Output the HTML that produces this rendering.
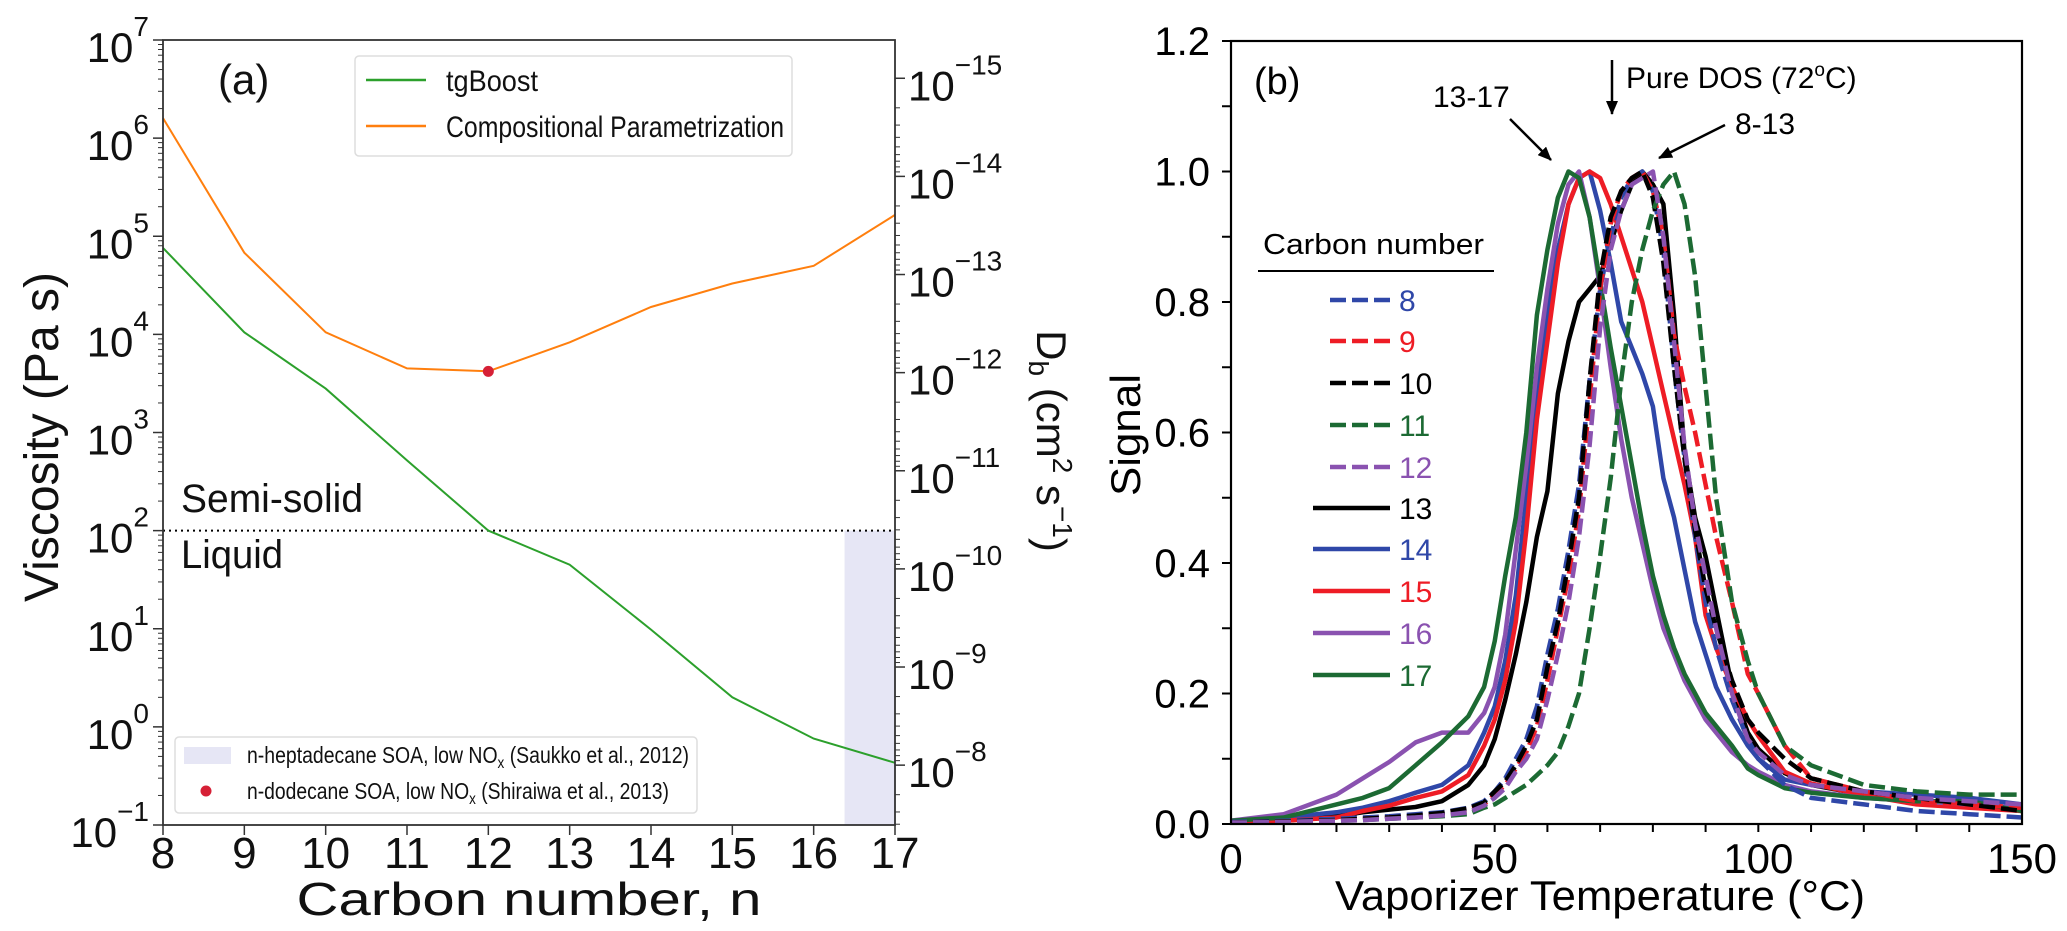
<!DOCTYPE html>
<html><head><meta charset="utf-8">
<style>
html,body{margin:0;padding:0;background:#fff;}
svg{display:block;font-family:"Liberation Sans",Arial,sans-serif;}
</style></head>
<body>
<svg id="fig" width="2067" height="931" viewBox="0 0 2067 931" xmlns="http://www.w3.org/2000/svg">
<defs></defs>
<g id="pa"></g>
<g id="pb"></g>
</svg>
<script>
// ---------- Panel (a) data ----------
const carbonN = [8, 9, 10, 11, 12, 13, 14, 15, 16, 17];
const tgBoost = [7.6e4, 1.05e4, 2.8e3, 5.2e2, 100, 45, 9.8, 2.0, 0.76, 0.43];
const compParam = [1.6e6, 6.8e4, 1.05e4, 4.5e3, 4.2e3, 8.3e3, 1.9e4, 3.3e4, 5.0e4, 1.65e5];
const dodecaneN = [12];
const dodecaneVisc = [4.2e3];
const leftExp = [7, 6, 5, 4, 3, 2, 1, 0, -1];
const rightExp = [-15, -14, -13, -12, -11, -10, -9, -8];
const shadeRange = [16.38, 17];
const semiSolidLimit = [100];

// ---------- Panel (b) data ----------
const temps = [0,10,20,25,30,35,40,45,48,50,52,54,56,58,60,62,64,66,68,70,72,74,76,78,80,82,84,86,88,90,92,95,98,100,105,110,120,130,140,150];
const s8  = [0.003,0.005,0.008,0.01,0.012,0.015,0.018,0.025,0.035,0.05,0.07,0.1,0.13,0.18,0.26,0.33,0.42,0.52,0.68,0.82,0.9,0.96,0.99,1.0,0.97,0.88,0.7,0.56,0.44,0.34,0.27,0.19,0.13,0.1,0.06,0.04,0.03,0.02,0.015,0.01];
const s9  = [0.002,0.004,0.006,0.008,0.01,0.012,0.016,0.022,0.03,0.045,0.06,0.085,0.11,0.15,0.22,0.3,0.38,0.48,0.65,0.82,0.92,0.97,0.99,1.0,0.97,0.9,0.75,0.67,0.6,0.52,0.44,0.34,0.23,0.2,0.12,0.07,0.05,0.035,0.03,0.025];
const s10 = [0.002,0.004,0.006,0.008,0.01,0.013,0.017,0.024,0.033,0.05,0.065,0.09,0.12,0.16,0.24,0.31,0.4,0.5,0.68,0.84,0.93,0.97,0.99,1.0,0.96,0.86,0.7,0.56,0.45,0.36,0.3,0.22,0.16,0.14,0.1,0.07,0.05,0.04,0.03,0.02];
const s11 = [0.002,0.003,0.005,0.006,0.008,0.01,0.012,0.015,0.025,0.03,0.04,0.05,0.06,0.075,0.09,0.11,0.15,0.2,0.3,0.41,0.53,0.68,0.8,0.88,0.94,0.98,1.0,0.95,0.84,0.67,0.5,0.34,0.25,0.2,0.12,0.09,0.06,0.05,0.045,0.045];
const s12 = [0.002,0.003,0.005,0.006,0.008,0.01,0.013,0.018,0.028,0.04,0.055,0.08,0.1,0.13,0.19,0.26,0.34,0.44,0.58,0.76,0.88,0.94,0.98,0.99,1.0,0.9,0.74,0.58,0.46,0.38,0.3,0.2,0.13,0.11,0.075,0.06,0.05,0.04,0.035,0.03];
const s13 = [0.002,0.005,0.012,0.018,0.022,0.026,0.035,0.06,0.09,0.13,0.19,0.26,0.34,0.44,0.51,0.66,0.74,0.8,0.82,0.84,0.89,0.94,0.98,1.0,0.98,0.95,0.78,0.57,0.47,0.41,0.33,0.21,0.14,0.115,0.078,0.06,0.045,0.035,0.03,0.02];
const s14 = [0.005,0.01,0.018,0.025,0.035,0.048,0.06,0.09,0.14,0.18,0.25,0.35,0.5,0.66,0.78,0.88,0.95,0.99,1.0,0.94,0.86,0.77,0.73,0.69,0.64,0.53,0.47,0.39,0.31,0.26,0.21,0.16,0.12,0.1,0.068,0.06,0.05,0.045,0.04,0.03];
const s15 = [0.003,0.005,0.01,0.02,0.028,0.04,0.05,0.075,0.12,0.16,0.22,0.31,0.45,0.62,0.74,0.86,0.95,0.99,1.0,0.99,0.95,0.9,0.85,0.8,0.73,0.66,0.59,0.52,0.44,0.32,0.27,0.21,0.16,0.135,0.08,0.062,0.044,0.03,0.025,0.02];
const s16 = [0.005,0.015,0.045,0.07,0.095,0.125,0.14,0.14,0.17,0.21,0.29,0.42,0.55,0.7,0.82,0.92,0.98,1.0,0.93,0.82,0.7,0.59,0.5,0.43,0.36,0.3,0.26,0.22,0.19,0.16,0.14,0.11,0.09,0.08,0.06,0.05,0.04,0.035,0.03,0.025];
const s17 = [0.005,0.01,0.03,0.04,0.055,0.09,0.125,0.165,0.21,0.28,0.38,0.47,0.6,0.78,0.88,0.96,1.0,0.99,0.93,0.83,0.73,0.64,0.55,0.46,0.38,0.32,0.27,0.23,0.2,0.17,0.15,0.12,0.085,0.075,0.055,0.048,0.04,0.035,0.035,0.02];
const seriesLabels = ["8","9","10","11","12","13","14","15","16","17"];
const yTicksB = [0.0, 0.2, 0.4, 0.6, 0.8, 1.0, 1.2];
const xTicksB = [0, 50, 100, 150];

const NS = "http://www.w3.org/2000/svg";
function mk(parent, tag, attrs, text) {
  const e = document.createElementNS(NS, tag);
  for (const k in attrs) e.setAttribute(k, attrs[k]);
  if (text !== undefined) e.textContent = text;
  parent.appendChild(e);
  return e;
}

// ---------- Panel (a) ----------
const pa = document.getElementById('pa');
const AX = {l:163, r:895, t:40, b:825};
const xA = n => AX.l + (n - 8) * (AX.r - AX.l) / 9;
const yA = v => AX.t + (7 - Math.log10(v)) * (AX.b - AX.t) / 8;
const yD = lg => AX.t + (15.39 + lg) * (AX.b - AX.t) / 8;

let e = mk(pa, 'rect', {x: xA(shadeRange[0]), y: yA(semiSolidLimit[0]), width: xA(shadeRange[1]) - xA(shadeRange[0]), height: AX.b - yA(semiSolidLimit[0]), fill: '#e6e6f5'});



e = mk(pa, 'line', {x1: AX.l, x2: AX.r, y1: yA(semiSolidLimit[0]), y2: yA(semiSolidLimit[0]), stroke: '#000', 'stroke-width': 2, 'stroke-dasharray': '2 4'});



function polyA(vals, color, name) {
  const p = carbonN.map((n, i) => xA(n).toFixed(1) + ',' + yA(vals[i]).toFixed(1)).join(' ');
  const el = mk(pa, 'polyline', {points: p, fill: 'none', stroke: color, 'stroke-width': 2});
  
  
}
polyA(compParam, '#ff7f0e', 'compositional-parametrization-line');
polyA(tgBoost, '#2ca02c', 'tgboost-line');

dodecaneN.forEach((n, i) => {
  const c = mk(pa, 'circle', {cx: xA(n), cy: yA(dodecaneVisc[i]), r: 5.5, fill: '#d62036'});
  
  
});

e = mk(pa, 'rect', {x: AX.l, y: AX.t, width: AX.r - AX.l, height: AX.b - AX.t, fill: 'none', stroke: '#333', 'stroke-width': 1.8});



leftExp.forEach(ex => {
  const y = yA(Math.pow(10, ex));
  mk(pa, 'line', {x1: AX.l - 10, x2: AX.l, y1: y, y2: y, stroke: '#333', 'stroke-width': 1.5});
  if (ex > -1) for (let m = 2; m < 10; m++) {
    const ym = yA(m * Math.pow(10, ex - 1));
    mk(pa, 'line', {x1: AX.l - 5, x2: AX.l, y1: ym, y2: ym, stroke: '#333', 'stroke-width': 1});
  }
  const t = mk(pa, 'text', {x: 149, y: y + 22, 'text-anchor': 'end', 'font-size': 42, fill: '#111'});
  
  
  mk(t, 'tspan', {}, '10');
  mk(t, 'tspan', {dy: -26, 'font-size': 28}, ex < 0 ? '\u2212' + (-ex) : String(ex));
});
rightExp.forEach(ex => {
  const y = yD(ex);
  mk(pa, 'line', {x1: AX.r, x2: AX.r + 10, y1: y, y2: y, stroke: '#333', 'stroke-width': 1.5});
  for (let m = 2; m < 10; m++) {
    const ym = yD(ex + Math.log10(m));
    if (ym < AX.b) mk(pa, 'line', {x1: AX.r, x2: AX.r + 5, y1: ym, y2: ym, stroke: '#333', 'stroke-width': 1});
  }
  const t = mk(pa, 'text', {x: 908, y: y + 22, 'font-size': 42, fill: '#111'});
  
  
  mk(t, 'tspan', {}, '10');
  mk(t, 'tspan', {dy: -26, 'font-size': 28}, '\u2212' + (-ex));
});
carbonN.forEach(n => {
  mk(pa, 'line', {x1: xA(n), x2: xA(n), y1: AX.b, y2: AX.b + 10, stroke: '#333', 'stroke-width': 1.5});
  const t = mk(pa, 'text', {x: xA(n), y: 868, 'text-anchor': 'middle', 'font-size': 44, fill: '#111'}, String(n));
  
  
});

// ---------- Panel (b) ----------
const pb = document.getElementById('pb');
const BX = {l:1231, r:2022, t:41, b:824};
const xB = T => BX.l + T * (BX.r - BX.l) / 150;
const yB = s => BX.b - s * (BX.b - BX.t) / 1.2;
const seriesB = [s8, s9, s10, s11, s12, s13, s14, s15, s16, s17];
const colorsB = ['#2f47a8', '#ee1c25', '#000000', '#1c6a33', '#8a52b0', '#000000', '#2f47a8', '#ee1c25', '#8a52b0', '#1c6a33'];
const dashedB = [true, true, true, true, true, false, false, false, false, false];

const clipB = mk(document.querySelector('defs'), 'clipPath', {id: 'clipb'});
mk(clipB, 'rect', {x: BX.l, y: BX.t - 5, width: BX.r - BX.l, height: BX.b - BX.t + 5});
const gCurves = mk(pb, 'g', {'clip-path': 'url(#clipb)'});
[5,6,7,8,9,0,1,2,3,4].forEach(i => {
  const pts = temps.map((T, j) => xB(T).toFixed(1) + ',' + yB(seriesB[i][j]).toFixed(1)).join(' ');
  const attrs = {points: pts, fill: 'none', stroke: colorsB[i], 'stroke-width': 4.5, 'stroke-linejoin': 'round'};
  if (dashedB[i]) attrs['stroke-dasharray'] = '16 6';
  const el = mk(gCurves, 'polyline', attrs);
  
  
});

e = mk(pb, 'rect', {x: BX.l, y: BX.t, width: BX.r - BX.l, height: BX.b - BX.t, fill: 'none', stroke: '#000', 'stroke-width': 2.2});



for (let k = 0; k <= 12; k++) {
  const y = yB(k / 10);
  mk(pb, 'line', {x1: BX.l - 9, x2: BX.l, y1: y, y2: y, stroke: '#000', 'stroke-width': 2});
}
yTicksB.forEach(v => {
  const t = mk(pb, 'text', {x: 1210, y: yB(v) + 14, 'text-anchor': 'end', 'font-size': 40, fill: '#000'}, v.toFixed(1));
  
  
});
for (let T = 10; T < 150; T += 10) {
  mk(pb, 'line', {x1: xB(T), x2: xB(T), y1: BX.b, y2: BX.b + 8, stroke: '#000', 'stroke-width': 2});
}
xTicksB.forEach(v => {
  const t = mk(pb, 'text', {x: xB(v), y: 873, 'text-anchor': 'middle', 'font-size': 42, fill: '#000'}, String(v));
  
  
});

const rowY = [300, 341, 383, 425, 467, 508, 549, 591, 633, 675];
seriesLabels.forEach((lab, i) => {
  const x1 = dashedB[i] ? 1330 : 1313;
  const attrs = {x1: x1, x2: 1390, y1: rowY[i], y2: rowY[i], stroke: colorsB[i], 'stroke-width': 4.5};
  if (dashedB[i]) attrs['stroke-dasharray'] = '16 6';
  const ln = mk(pb, 'line', attrs);
  
  
  const t = mk(pb, 'text', {x: 1399, y: rowY[i] + 11, 'font-size': 30, fill: colorsB[i]}, lab);
  
  
});
</script>

<svg style="position:absolute;left:0;top:0" width="2067" height="931" viewBox="0 0 2067 931" xmlns="http://www.w3.org/2000/svg" font-family="Liberation Sans, Arial, sans-serif">
<defs><marker id="ah2" markerWidth="14" markerHeight="12" refX="13" refY="6" orient="auto" markerUnits="userSpaceOnUse"><path d="M0,0 L14,6 L0,12 Z" fill="#000"/></marker></defs>
<text x="218" y="94" font-size="42" fill="#111">(a)</text>
<text x="181" y="512" font-size="40" fill="#111" textLength="182" lengthAdjust="spacingAndGlyphs">Semi-solid</text>
<text x="181" y="568" font-size="40" fill="#111" textLength="102" lengthAdjust="spacingAndGlyphs">Liquid</text>
<text transform="translate(58,437) rotate(-90)" text-anchor="middle" font-size="48" fill="#111" textLength="330" lengthAdjust="spacingAndGlyphs">Viscosity (Pa s)</text>
<text x="529" y="915" text-anchor="middle" font-size="46" fill="#111" textLength="465" lengthAdjust="spacingAndGlyphs">Carbon number, n</text>
<text transform="translate(1037,441) rotate(90)" text-anchor="middle" font-size="42" fill="#111">D<tspan font-size="28" dy="8">b</tspan><tspan dy="-8"> (cm</tspan><tspan font-size="28" dy="-16">2</tspan><tspan dy="16"> s</tspan><tspan font-size="28" dy="-16">−1</tspan><tspan dy="16">)</tspan></text>
<g>
<rect x="355" y="56" width="437" height="100" rx="4" fill="#fff" fill-opacity="0.85" stroke="#ddd" stroke-width="1.5"/>
<line x1="366" x2="426" y1="80" y2="80" stroke="#2ca02c" stroke-width="2.5"/>
<text x="446" y="91" font-size="30" fill="#111" textLength="92" lengthAdjust="spacingAndGlyphs">tgBoost</text>
<line x1="366" x2="426" y1="126" y2="126" stroke="#ff7f0e" stroke-width="2.5"/>
<text x="446" y="137" font-size="30" fill="#111" textLength="338" lengthAdjust="spacingAndGlyphs">Compositional Parametrization</text>
</g>
<g>
<rect x="175" y="737" width="522" height="76" rx="4" fill="#fff" fill-opacity="0.85" stroke="#ddd" stroke-width="1.5"/>
<rect x="184" y="747" width="47" height="17" fill="#e6e6f5"/>
<text x="247" y="763" font-size="23" fill="#111" textLength="442" lengthAdjust="spacingAndGlyphs">n-heptadecane SOA, low NO<tspan font-size="16" dy="5">x</tspan><tspan dy="-5"> (Saukko et al., 2012)</tspan></text>
<circle cx="206" cy="791" r="5.5" fill="#d62036"/>
<text x="247" y="799" font-size="23" fill="#111" textLength="422" lengthAdjust="spacingAndGlyphs">n-dodecane SOA, low NO<tspan font-size="16" dy="5">x</tspan><tspan dy="-5"> (Shiraiwa et al., 2013)</tspan></text>
</g>
<text x="1254" y="94" font-size="38" fill="#000">(b)</text>
<text transform="translate(1140,435) rotate(-90)" text-anchor="middle" font-size="42" fill="#000" textLength="122" lengthAdjust="spacingAndGlyphs">Signal</text>
<text x="1335" y="910" font-size="42" fill="#000" textLength="530" lengthAdjust="spacingAndGlyphs">Vaporizer Temperature (°C)</text>
<text x="1263" y="254" font-size="29" fill="#000" textLength="221" lengthAdjust="spacingAndGlyphs">Carbon  number</text>
<line x1="1258" x2="1494" y1="271" y2="271" stroke="#000" stroke-width="2"/>
<text x="1433" y="107" font-size="30" fill="#000">13-17</text>
<line x1="1510" y1="119" x2="1551" y2="160" stroke="#000" stroke-width="2.5" marker-end="url(#ah2)"/>
<text x="1626" y="88" font-size="30" fill="#000">Pure DOS (72<tspan font-size="19" dy="-12">o</tspan><tspan dy="12">C)</tspan></text>
<line x1="1612" y1="60" x2="1612" y2="114" stroke="#000" stroke-width="2.5" marker-end="url(#ah2)"/>
<text x="1735" y="134" font-size="30" fill="#000">8-13</text>
<line x1="1725" y1="125" x2="1659" y2="158" stroke="#000" stroke-width="2.5" marker-end="url(#ah2)"/>
</svg>
</body></html>
